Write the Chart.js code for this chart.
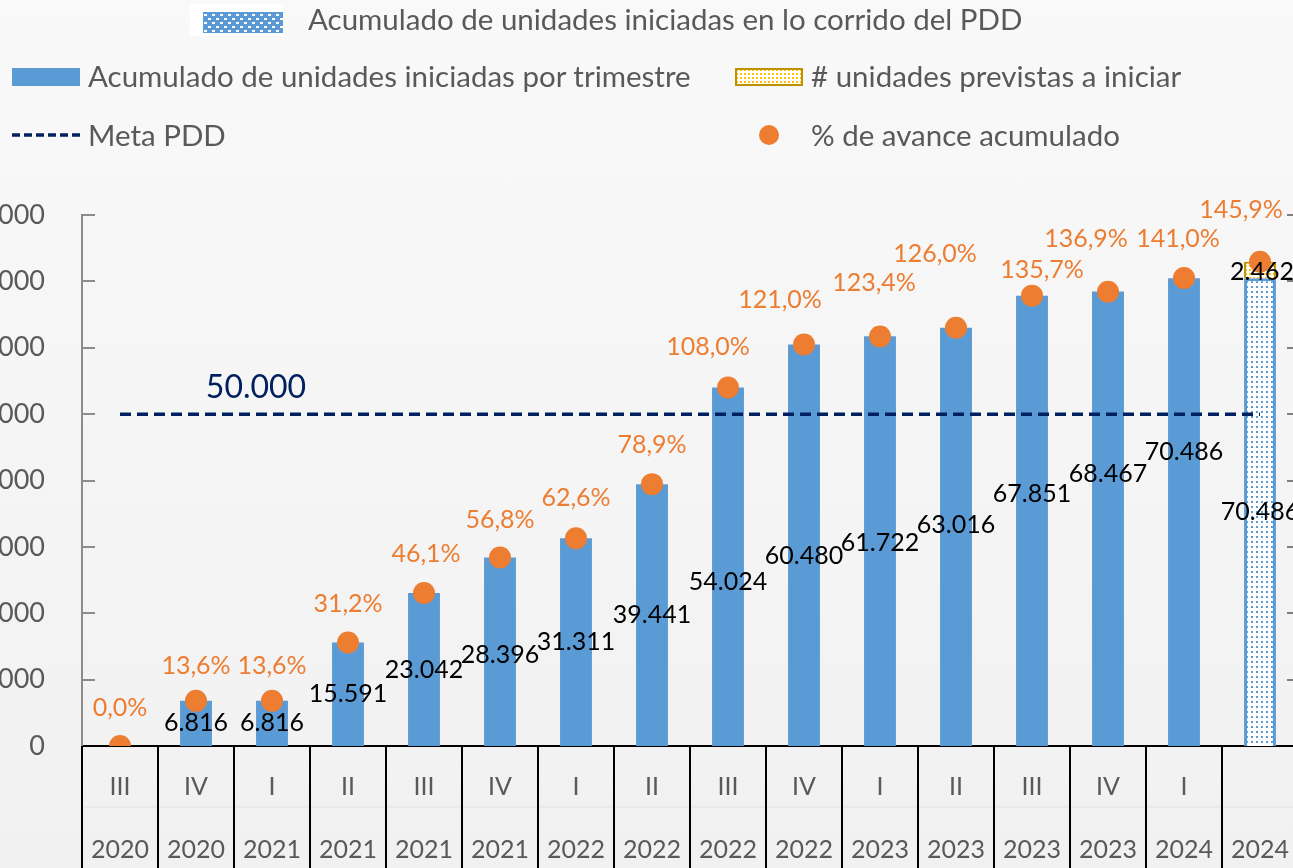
<!DOCTYPE html>
<html lang="es">
<head>
<meta charset="utf-8">
<title>Avance de unidades iniciadas - PDD</title>
<script src="https://cdn.jsdelivr.net/npm/chart.js@4.4.1/dist/chart.umd.min.js"></script>
<style>
  html, body { margin: 0; padding: 0; width: 1293px; height: 868px; overflow: hidden; }
  body { position: relative; background: linear-gradient(#f9f9f9, #f1f1f1); font-family: Lato, "Open Sans", sans-serif; }
  #chart { position: absolute; left: -100px; top: 0; }
  #legend { position: absolute; left: 0; top: 0; width: 1293px; height: 170px; }
  .lg-text { position: absolute; color: #595959; font-size: 29.5px; line-height: 34px; white-space: nowrap; }
  .lg-sw { position: absolute; }
</style>
</head>
<body>
<canvas id="chart" width="1498" height="868"></canvas>
<div id="legend"></div>
<script>
// categorias (trimestre / año)
const quarters = ['III', 'IV', 'I', 'II', 'III', 'IV', 'I', 'II', 'III', 'IV', 'I', 'II', 'III', 'IV', 'I', ''];
const years = ['2020', '2020', '2021', '2021', '2021', '2021', '2022', '2022', '2022', '2022', '2023', '2023', '2023', '2023', '2024', '2024'];

// series
const acumTrimestre = [0, 6816, 6816, 15591, 23042, 28396, 31311, 39441, 54024, 60480, 61722, 63016, 67851, 68467, 70486, null];
const acumPDD = [null, null, null, null, null, null, null, null, null, null, null, null, null, null, null, 70486];
const previstas = [null, null, null, null, null, null, null, null, null, null, null, null, null, null, null, 2462];
const metaPDD = [50000, 50000, 50000, 50000, 50000, 50000, 50000, 50000, 50000, 50000, 50000, 50000, 50000, 50000, 50000, 50000];
const avancePct = [0.0, 13.6, 13.6, 31.2, 46.1, 56.8, 62.6, 78.9, 108.0, 121.0, 123.4, 126.0, 135.7, 136.9, 141.0, 145.9];

// ejes
const yMax = 80000, yStep = 10000;
const y2Max = 160, y2Step = 20;

// label nudges (px), same as the hand-moved labels in the original
const barLabelDy = [0, 0, 0, 0, 0, 3, 0, 0, 15, 11, 2, -12, -27, -45, -60, 0];
const pctLabelDx = [0, 0, 0, 0, 2, 0, 0, 0, -20, -24, -6, -21, 10, -22, -6, -19];
const pctLabelDy = [-38, -35, -35, -39, -39, -38, -40, -39, -41, -44, -54, -74, -26, -53, -39, -52];

const BLUE = '#5B9BD5';
const ORANGE = '#ED7D31';
const NAVY = '#002060';
const GOLD = '#BF9000';
const FONT = 'Lato, "Open Sans", sans-serif';

function fmtMiles(n) {
    return String(n).replace(/\B(?=(\d{3})+(?!\d))/g, '.');
}
function fmtPct(v) {
    return v.toFixed(1).replace('.', ',') + '%';
}

function makePattern(size, bg, dot, dotW, dotH, offsets) {
    const c = document.createElement('canvas');
    c.width = size; c.height = size;
    const g = c.getContext('2d');
    g.fillStyle = bg;
    g.fillRect(0, 0, size, size);
    g.fillStyle = dot;
    offsets.forEach(o => g.fillRect(o[0], o[1], dotW, dotH));
    return g.createPattern(c, 'repeat');
}

const ctx = document.getElementById('chart').getContext('2d');
const bluePattern = makePattern(5, '#ffffff', BLUE, 2, 2, [[1, 1]]);
const goldPattern = makePattern(4, '#ffffff', '#FFC000', 2, 2, [[1, 1]]);

const labelPlugin = {
    id: 'valueLabels',
    afterDraw(chart) {
        const c = chart.ctx;
        const area = chart.chartArea;
        const xs = chart.scales.x, ys = chart.scales.y, ys2 = chart.scales.y2;
        const half = (xs.getPixelForValue(1) - xs.getPixelForValue(0)) / 2;
        c.save();

        // left axis inner ticks
        c.strokeStyle = '#8c8c8c';
        c.lineWidth = 2;
        for (let v = yStep; v <= yMax; v += yStep) {
            const y = Math.round(ys.getPixelForValue(v));
            c.beginPath(); c.moveTo(area.left, y); c.lineTo(area.left + 13, y); c.stroke();
        }
        // right axis inner ticks
        c.strokeStyle = '#595959';
        c.lineWidth = 1.5;
        for (let v = y2Step; v <= y2Max; v += y2Step) {
            const y = Math.round(ys2.getPixelForValue(v));
            c.beginPath(); c.moveTo(area.right - 11, y); c.lineTo(area.right, y); c.stroke();
        }
        // faint line between the two category rows
        c.strokeStyle = '#e2e2e2';
        c.lineWidth = 1;
        c.beginPath(); c.moveTo(area.left, area.bottom + 61); c.lineTo(area.right, area.bottom + 61); c.stroke();
        // category separators
        c.strokeStyle = '#000';
        c.lineWidth = 2;
        for (let i = 0; i <= quarters.length; i++) {
            const x = Math.round(xs.getPixelForValue(i) - half);
            c.beginPath(); c.moveTo(x, area.bottom); c.lineTo(x, chart.height); c.stroke();
        }

        // bar value labels
        c.textAlign = 'center';
        c.textBaseline = 'middle';
        c.font = '25px ' + FONT;
        c.fillStyle = '#000';
        [0, 1].forEach(di => {
            chart.getDatasetMeta(di).data.forEach((bar, j) => {
                const v = chart.data.datasets[di].data[j];
                if (!v) return;
                c.fillText(fmtMiles(v), bar.x, (bar.y + bar.base) / 2 + barLabelDy[j]);
            });
        });
        chart.getDatasetMeta(2).data.forEach((bar, j) => {
            const v = previstas[j];
            if (!v) return;
            c.fillText(fmtMiles(v), bar.x + 2, (bar.y + bar.base) / 2 + 2);
        });

        // meta label
        const metaPt = chart.getDatasetMeta(3).data[2];
        c.font = '32px ' + FONT;
        c.fillStyle = NAVY;
        c.fillText(fmtMiles(metaPDD[2]), metaPt.x - 16, metaPt.y - 26);

        // percent labels
        c.font = '25px ' + FONT;
        c.fillStyle = ORANGE;
        chart.getDatasetMeta(4).data.forEach((pt, j) => {
            c.fillText(fmtPct(avancePct[j]), pt.x + pctLabelDx[j], pt.y + pctLabelDy[j]);
        });
        c.restore();
    }
};

const chart = new Chart(ctx, {
    type: 'bar',
    data: {
        labels: quarters.map((q, i) => [q, years[i]]),
        datasets: [
            {
                label: 'Acumulado de unidades iniciadas por trimestre',
                data: acumTrimestre,
                backgroundColor: BLUE,
                stack: 'u',
                order: 3,
                barPercentage: 0.42,
                categoryPercentage: 1
            },
            {
                label: 'Acumulado de unidades iniciadas en lo corrido del PDD',
                data: acumPDD,
                backgroundColor: bluePattern,
                borderColor: BLUE,
                borderWidth: 3,
                stack: 'u',
                order: 3,
                barPercentage: 0.42,
                categoryPercentage: 1
            },
            {
                label: '# unidades previstas a iniciar',
                data: previstas,
                backgroundColor: goldPattern,
                borderColor: GOLD,
                borderWidth: 2,
                stack: 'u',
                order: 3,
                barPercentage: 0.42,
                categoryPercentage: 1
            },
            {
                type: 'line',
                label: 'Meta PDD',
                data: metaPDD,
                borderColor: NAVY,
                borderWidth: 3.5,
                borderDash: [11, 6],
                pointRadius: 0,
                fill: false,
                stack: 'meta',
                order: 2
            },
            {
                type: 'line',
                label: '% de avance acumulado',
                data: avancePct,
                yAxisID: 'y2',
                showLine: false,
                pointRadius: 11,
                pointBackgroundColor: ORANGE,
                pointBorderWidth: 0,
                order: 1
            }
        ]
    },
    options: {
        responsive: false,
        animation: false,
        layout: { padding: { top: 215, bottom: 0, left: 0, right: 0 } },
        plugins: {
            legend: { display: false },
            tooltip: { enabled: false }
        },
        scales: {
            x: {
                stacked: true,
                offset: true,
                grid: { display: false, drawTicks: false },
                border: { display: true, color: '#000', width: 2 },
                ticks: {
                    padding: 9,
                    color: '#595959',
                    font: { family: FONT, size: 25, lineHeight: 2.52 },
                    maxRotation: 0,
                    autoSkip: false
                },
                afterFit(scale) { scale.height = 122; }
            },
            y: {
                stacked: true,
                min: 0,
                max: yMax,
                grid: { display: false, drawTicks: false },
                border: { display: true, color: '#8c8c8c', width: 2 },
                ticks: {
                    stepSize: yStep,
                    padding: 37,
                    color: '#595959',
                    font: { family: FONT, size: 27 },
                    callback: v => fmtMiles(v)
                },
                afterFit(scale) { scale.width = 182; }
            },
            y2: {
                position: 'right',
                min: 0,
                max: y2Max,
                grid: { display: false, drawTicks: false },
                border: { display: false },
                ticks: {
                    stepSize: y2Step,
                    padding: 10,
                    color: '#595959',
                    font: { family: FONT, size: 27 },
                    callback: v => v + '%'
                },
                afterFit(scale) { scale.width = 100; }
            }
        }
    },
    plugins: [labelPlugin]
});

// legend built from the chart's datasets
const legendSpots = [
    { ds: 1, kind: 'pattern', sx: 203, sy: 12, sw: 80, sh: 21, tx: 308, ty: 19 },
    { ds: 0, kind: 'solid', sx: 12, sy: 68, sw: 68, sh: 18, tx: 88, ty: 76 },
    { ds: 2, kind: 'gold', sx: 735, sy: 68, sw: 68, sh: 18, tx: 811, ty: 76 },
    { ds: 3, kind: 'dash', sx: 12, sy: 126, sw: 68, sh: 18, tx: 88, ty: 135 },
    { ds: 4, kind: 'dot', sx: 758, sy: 124, sw: 22, sh: 22, tx: 811, ty: 135 }
];
const legendBox = document.getElementById('legend');

const whiteBack = document.createElement('div');
whiteBack.style.cssText = 'position:absolute;left:190px;top:4px;width:93px;height:32px;background:#fff;';
legendBox.appendChild(whiteBack);

legendSpots.forEach(s => {
    const sw = document.createElement('canvas');
    sw.className = 'lg-sw';
    sw.width = s.sw; sw.height = s.sh;
    sw.style.left = s.sx + 'px';
    sw.style.top = s.sy + 'px';
    const g = sw.getContext('2d');
    if (s.kind === 'pattern') {
        g.fillStyle = makePattern(8, BLUE, '#ffffff', 3, 2, [[1, 2], [5, 6]]);
        g.fillRect(0, 0, s.sw, s.sh);
    } else if (s.kind === 'solid') {
        g.fillStyle = BLUE;
        g.fillRect(0, 0, s.sw, s.sh);
    } else if (s.kind === 'gold') {
        g.fillStyle = makePattern(4, '#ffffff', '#FFC000', 2, 2, [[1, 1]]);
        g.fillRect(0, 0, s.sw, s.sh);
        g.strokeStyle = GOLD;
        g.lineWidth = 2;
        g.strokeRect(1, 1, s.sw - 2, s.sh - 2);
    } else if (s.kind === 'dash') {
        g.strokeStyle = NAVY;
        g.lineWidth = 3.5;
        g.setLineDash([8, 4]);
        g.beginPath(); g.moveTo(0, s.sh / 2); g.lineTo(s.sw, s.sh / 2); g.stroke();
    } else {
        g.fillStyle = ORANGE;
        g.beginPath(); g.arc(s.sw / 2, s.sh / 2, 10, 0, Math.PI * 2); g.fill();
    }
    legendBox.appendChild(sw);

    const t = document.createElement('div');
    t.className = 'lg-text';
    t.textContent = chart.data.datasets[s.ds].label;
    t.style.left = s.tx + 'px';
    t.style.top = (s.ty - 17) + 'px';
    legendBox.appendChild(t);
});
</script>
</body>
</html>
